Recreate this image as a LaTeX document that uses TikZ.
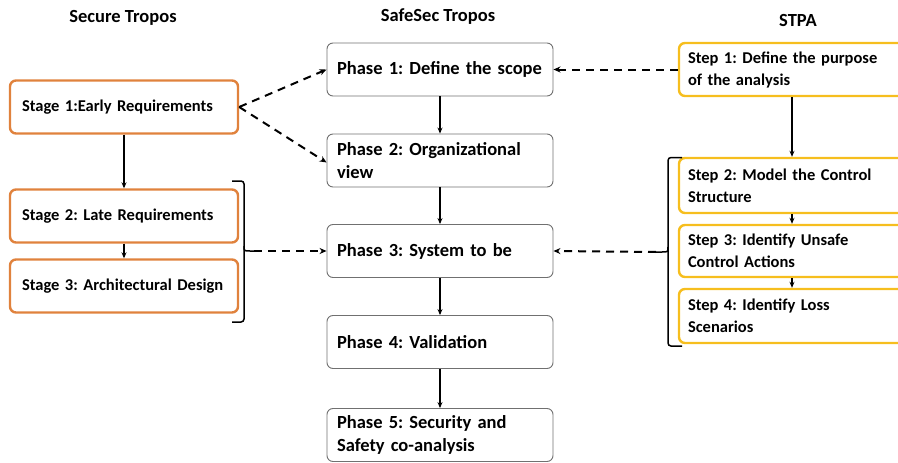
\documentclass[tikz,border=0pt]{standalone}
\usepackage{fontspec}
\setmainfont{Carlito}
\usetikzlibrary{arrows.meta}
\definecolor{orng}{HTML}{E0823D}
\definecolor{yllw}{HTML}{F6BE1E}
\definecolor{gryb}{HTML}{707070}
\tikzset{
  basebox/.style={rectangle, rounded corners=6pt, align=left, inner sep=0pt, font=\frenchspacing\bfseries\fontsize{16.5}{22}\selectfont},
  phasebox/.style={basebox, draw=gryb, line width=0.9pt, minimum width=226pt, minimum height=53pt, text width=206pt, font=\frenchspacing\bfseries\fontsize{18.5}{23.5}\selectfont},
  stagebox/.style={basebox, draw=orng, line width=2.4pt, minimum width=228pt, minimum height=53pt, text width=204pt},
  stepbox/.style={basebox, draw=yllw, line width=2.4pt, minimum width=232pt, minimum height=53pt, text width=214pt},
  title/.style={font=\bfseries\fontsize{18.5}{20}\selectfont},
  solidarr/.style={line width=1.3pt, -{Stealth[length=6pt,width=5pt]}},
  dasharr/.style={line width=2pt, dash pattern=on 8pt off 6pt, -{Stealth[length=7pt,width=6pt]}},
  brk/.style={line width=1.5pt, rounded corners=3pt}
}
\begin{document}
\begin{tikzpicture}[x=1pt,y=-1pt]
\useasboundingbox (0,0) rectangle (898,463);
\clip (0,0) rectangle (898,463);
% titles
\node[title] (t1) at (123,18) {Secure Tropos};
\node[title] (t2) at (438,17) {SafeSec Tropos};
\node[title] (t3) at (798,20) {STPA};
% left
\node[stagebox] (s1) at (124,107) {Stage 1:Early Requirements};
\node[stagebox] (s2) at (124,216) {Stage 2: Late Requirements};
\node[stagebox] (s3) at (124,286) {Stage 3: Architectural Design};
% middle
\node[phasebox] (p1) at (440,69.5) {\mbox{Phase 1: Define the scope}};
\node[phasebox] (p2) at (440,160.5) {\mbox{Phase 2: Organizational}\\view};
\node[phasebox] (p3) at (440,251) {Phase 3: System to be};
\node[phasebox] (p4) at (440,342) {Phase 4: Validation};
\node[phasebox] (p5) at (440,435) {\mbox{Phase 5: Security and}\\\mbox{Safety co-analysis}};
% right
\node[stepbox, minimum height=53pt] (r1) at (795,69.5) {Step 1: Define the purpose\\of the analysis};
\node[stepbox, minimum height=55pt] (r2) at (795,185.5) {Step 2: Model the Control\\Structure};
\node[stepbox, minimum height=52pt] (r3) at (795,251) {Step 3: Identify Unsafe\\Control Actions};
\node[stepbox, minimum height=54pt] (r4) at (795,316) {Step 4: Identify Loss\\Scenarios};
% solid arrows
\draw[solidarr] (s1.south) -- (s2.south |- s2.north);
\draw[solidarr] (s2) -- (s3);
\draw[solidarr] (p1) -- (p2);
\draw[solidarr] (p2) -- (p3);
\draw[solidarr] (p3) -- (p4);
\draw[solidarr] (p4) -- (p5);
\draw[solidarr] (r1.south -| 792,0) -- (r2.north -| 792,0);
\draw[solidarr] (r2.south -| 792,0) -- (r3.north -| 792,0);
\draw[solidarr] (r3.south -| 792,0) -- (r4.north -| 792,0);
% brackets
\coordinate (lb) at (254,251);
\draw[brk] (232,181) -- (244,181) -- (244,322) -- (232,322);
\draw[line width=1.5pt] (244,246) .. controls (244,251) .. (250,251) -- (lb);
\coordinate (rb) at (656,252);
\draw[brk] (682,157.5) -- (668,157.5) -- (668,346) -- (682,346);
\draw[line width=1.5pt] (668,247) .. controls (668,252) .. (662,252) -- (rb);
% dashed arrows
\draw[dasharr] (s1.east) -- (p1.west);
\draw[dasharr] (s1.east) -- ([yshift=-2pt]p2.west);
\draw[dasharr] (lb) -- (p3.west);
\draw[dasharr] (r1.west) -- (p1.east);
\draw[dasharr] (rb) -- (p3.east);
\end{tikzpicture}
\end{document}
